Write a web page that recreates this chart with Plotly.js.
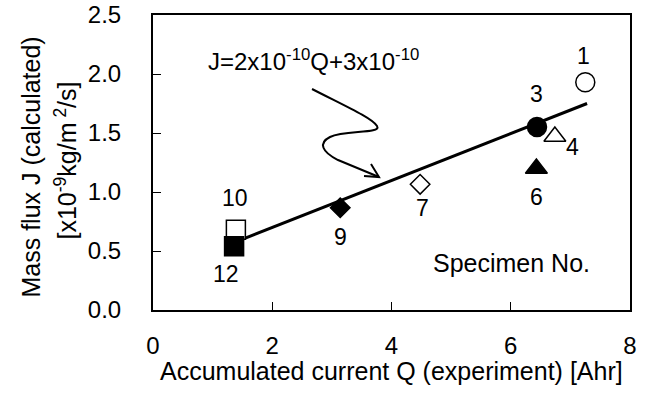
<!DOCTYPE html>
<html>
<head>
<meta charset="utf-8">
<script src="https://cdn.plot.ly/plotly-3.0.1.min.js"></script>
<style>html,body{margin:0;padding:0;background:#fff;}#chart{width:650px;height:411px;}</style>
</head>
<body>
<div id="chart"></div>
<script>
// ---- data ----
var specimen = ['1', '3', '4', '6', '7', '9', '10', '12'];
var accumulatedQ = [7.25, 6.44, 6.74, 6.43, 4.48, 3.14, 1.39, 1.36];
var massFluxJ = [1.93, 1.55, 1.47, 1.20, 1.065, 0.867, 0.68, 0.54];
var filled = [false, true, false, true, false, true, false, true];
var shape = ['circle', 'circle', 'triangle-up', 'triangle-up', 'diamond', 'diamond', 'square', 'square'];

// fitted line J = 2e-10 Q + 3e-10 (in units of 1e-9), end points as drawn
var fitQ = [1.4, 7.28];
var fitJ = [0.58, 1.75];

var xTicks = [0, 2, 4, 6, 8];
var yTicks = [0.0, 0.5, 1.0, 1.5, 2.0, 2.5];

// curvy arrow, points in data units (Q, J)
var arrowPts = [
  [2.667, 1.873], [3.220, 1.729], [3.673, 1.627], [3.757, 1.559],
  [3.841, 1.492], [3.220, 1.525], [2.969, 1.466],
  [2.767, 1.415], [2.834, 1.339], [3.103, 1.271],
  [3.790, 1.127]
];
var arrowHead = [[3.656, 1.237], [3.790, 1.127], [3.539, 1.136]];

// ---- styles ----
var FONT = 'Liberation Sans, Arial, sans-serif';
var sizeBySymbol = {'circle': 19, 'triangle-up': 19, 'diamond': 15, 'square': 19};
var labelOffset = {
  '1': [-2, 26], '3': [0, 33], '4': [18, -10], '6': [0, -29],
  '7': [2, -24], '9': [0, -29], '10': [-1, 32], '12': [-8, -28]
};

function p(pt) { return pt[0] + ',' + pt[1]; }
var path = 'M' + p(arrowPts[0]);
for (var i = 1; i + 2 < arrowPts.length; i += 3) {
  path += ' C' + p(arrowPts[i]) + ' ' + p(arrowPts[i + 1]) + ' ' + p(arrowPts[i + 2]);
}
path += ' L' + p(arrowPts[arrowPts.length - 1]);
var headPath = 'M' + p(arrowHead[0]) + ' L' + p(arrowHead[1]) + ' L' + p(arrowHead[2]);

var traces = [
  {
    x: fitQ, y: fitJ, type: 'scatter', mode: 'lines',
    line: {color: '#000', width: 3}, hoverinfo: 'skip', showlegend: false
  },
  {
    x: accumulatedQ, y: massFluxJ, type: 'scatter', mode: 'markers',
    showlegend: false,
    marker: {
      symbol: shape,
      opacity: 1,
      size: shape.map(function (s) { return sizeBySymbol[s]; }),
      color: filled.map(function (f) { return f ? '#000' : '#fff'; }),
      line: {color: '#000', width: 1.5}
    }
  }
];

var annotations = specimen.map(function (s, i) {
  var o = labelOffset[s];
  return {
    x: accumulatedQ[i], y: massFluxJ[i], xref: 'x', yref: 'y',
    text: s, showarrow: false, xshift: o[0], yshift: o[1],
    xanchor: 'center', yanchor: 'middle',
    font: {family: FONT, size: 23, color: '#000'}
  };
});

annotations.push({
  x: 2.70, y: 2.12, xref: 'x', yref: 'y', showarrow: false,
  text: 'J=2x10<sup>-10</sup>Q+3x10<sup>-10</sup>',
  xanchor: 'center', yanchor: 'middle',
  font: {family: FONT, size: 24, color: '#000'}
});
annotations.push({
  x: 6.02, y: 0.40, xref: 'x', yref: 'y', showarrow: false,
  text: 'Specimen No.', xanchor: 'center', yanchor: 'middle',
  font: {family: FONT, size: 25, color: '#000'}
});
annotations.push({
  x: 0.5, y: 0, xref: 'paper', yref: 'paper', showarrow: false,
  text: 'Accumulated current Q (experiment) [Ahr]',
  xanchor: 'center', yanchor: 'middle', yshift: -61,
  font: {family: FONT, size: 25, color: '#000'}
});
annotations.push({
  x: 0, y: 0.5, xref: 'paper', yref: 'paper', showarrow: false,
  text: 'Mass flux J (calculated)', textangle: -90,
  xanchor: 'center', yanchor: 'middle', xshift: -123, yshift: -5,
  font: {family: FONT, size: 25, color: '#000'}
});
annotations.push({
  x: 0, y: 0.5, xref: 'paper', yref: 'paper', showarrow: false,
  text: '[x10<sup>-9</sup>kg/m<sup> 2</sup>/s]', textangle: -90,
  xanchor: 'center', yanchor: 'middle', xshift: -88, yshift: 2,
  font: {family: FONT, size: 25, color: '#000'}
});

var layout = {
  width: 650, height: 411,
  margin: {l: 153, r: 20, t: 15, b: 101, pad: 0},
  paper_bgcolor: '#fff', plot_bgcolor: '#fff',
  font: {family: FONT, size: 24, color: '#000'},
  showlegend: false,
  xaxis: {
    range: [0, 8], tickvals: xTicks, ticktext: xTicks.map(String),
    ticks: 'inside', ticklen: 8, tickwidth: 1, tickcolor: '#000',
    showline: true, linecolor: '#000', linewidth: 2, mirror: true,
    showgrid: false, zeroline: false, ticklabelstandoff: 13,
    tickfont: {family: FONT, size: 24, color: '#000'}
  },
  yaxis: {
    range: [0, 2.5], tickvals: yTicks, ticktext: yTicks.map(function (v) { return v.toFixed(1); }),
    ticks: 'inside', ticklen: 8, tickwidth: 1, tickcolor: '#000',
    showline: true, linecolor: '#000', linewidth: 2, mirror: true,
    showgrid: false, zeroline: false, ticklabelstandoff: 25,
    tickfont: {family: FONT, size: 24, color: '#000'}
  },
  shapes: [
    {type: 'path', xref: 'x', yref: 'y', path: path, line: {color: '#000', width: 2}},
    {type: 'path', xref: 'x', yref: 'y', path: headPath, line: {color: '#000', width: 2}}
  ],
  annotations: annotations
};

Plotly.newPlot('chart', traces, layout, {displayModeBar: false, staticPlot: true});
</script>
</body>
</html>
